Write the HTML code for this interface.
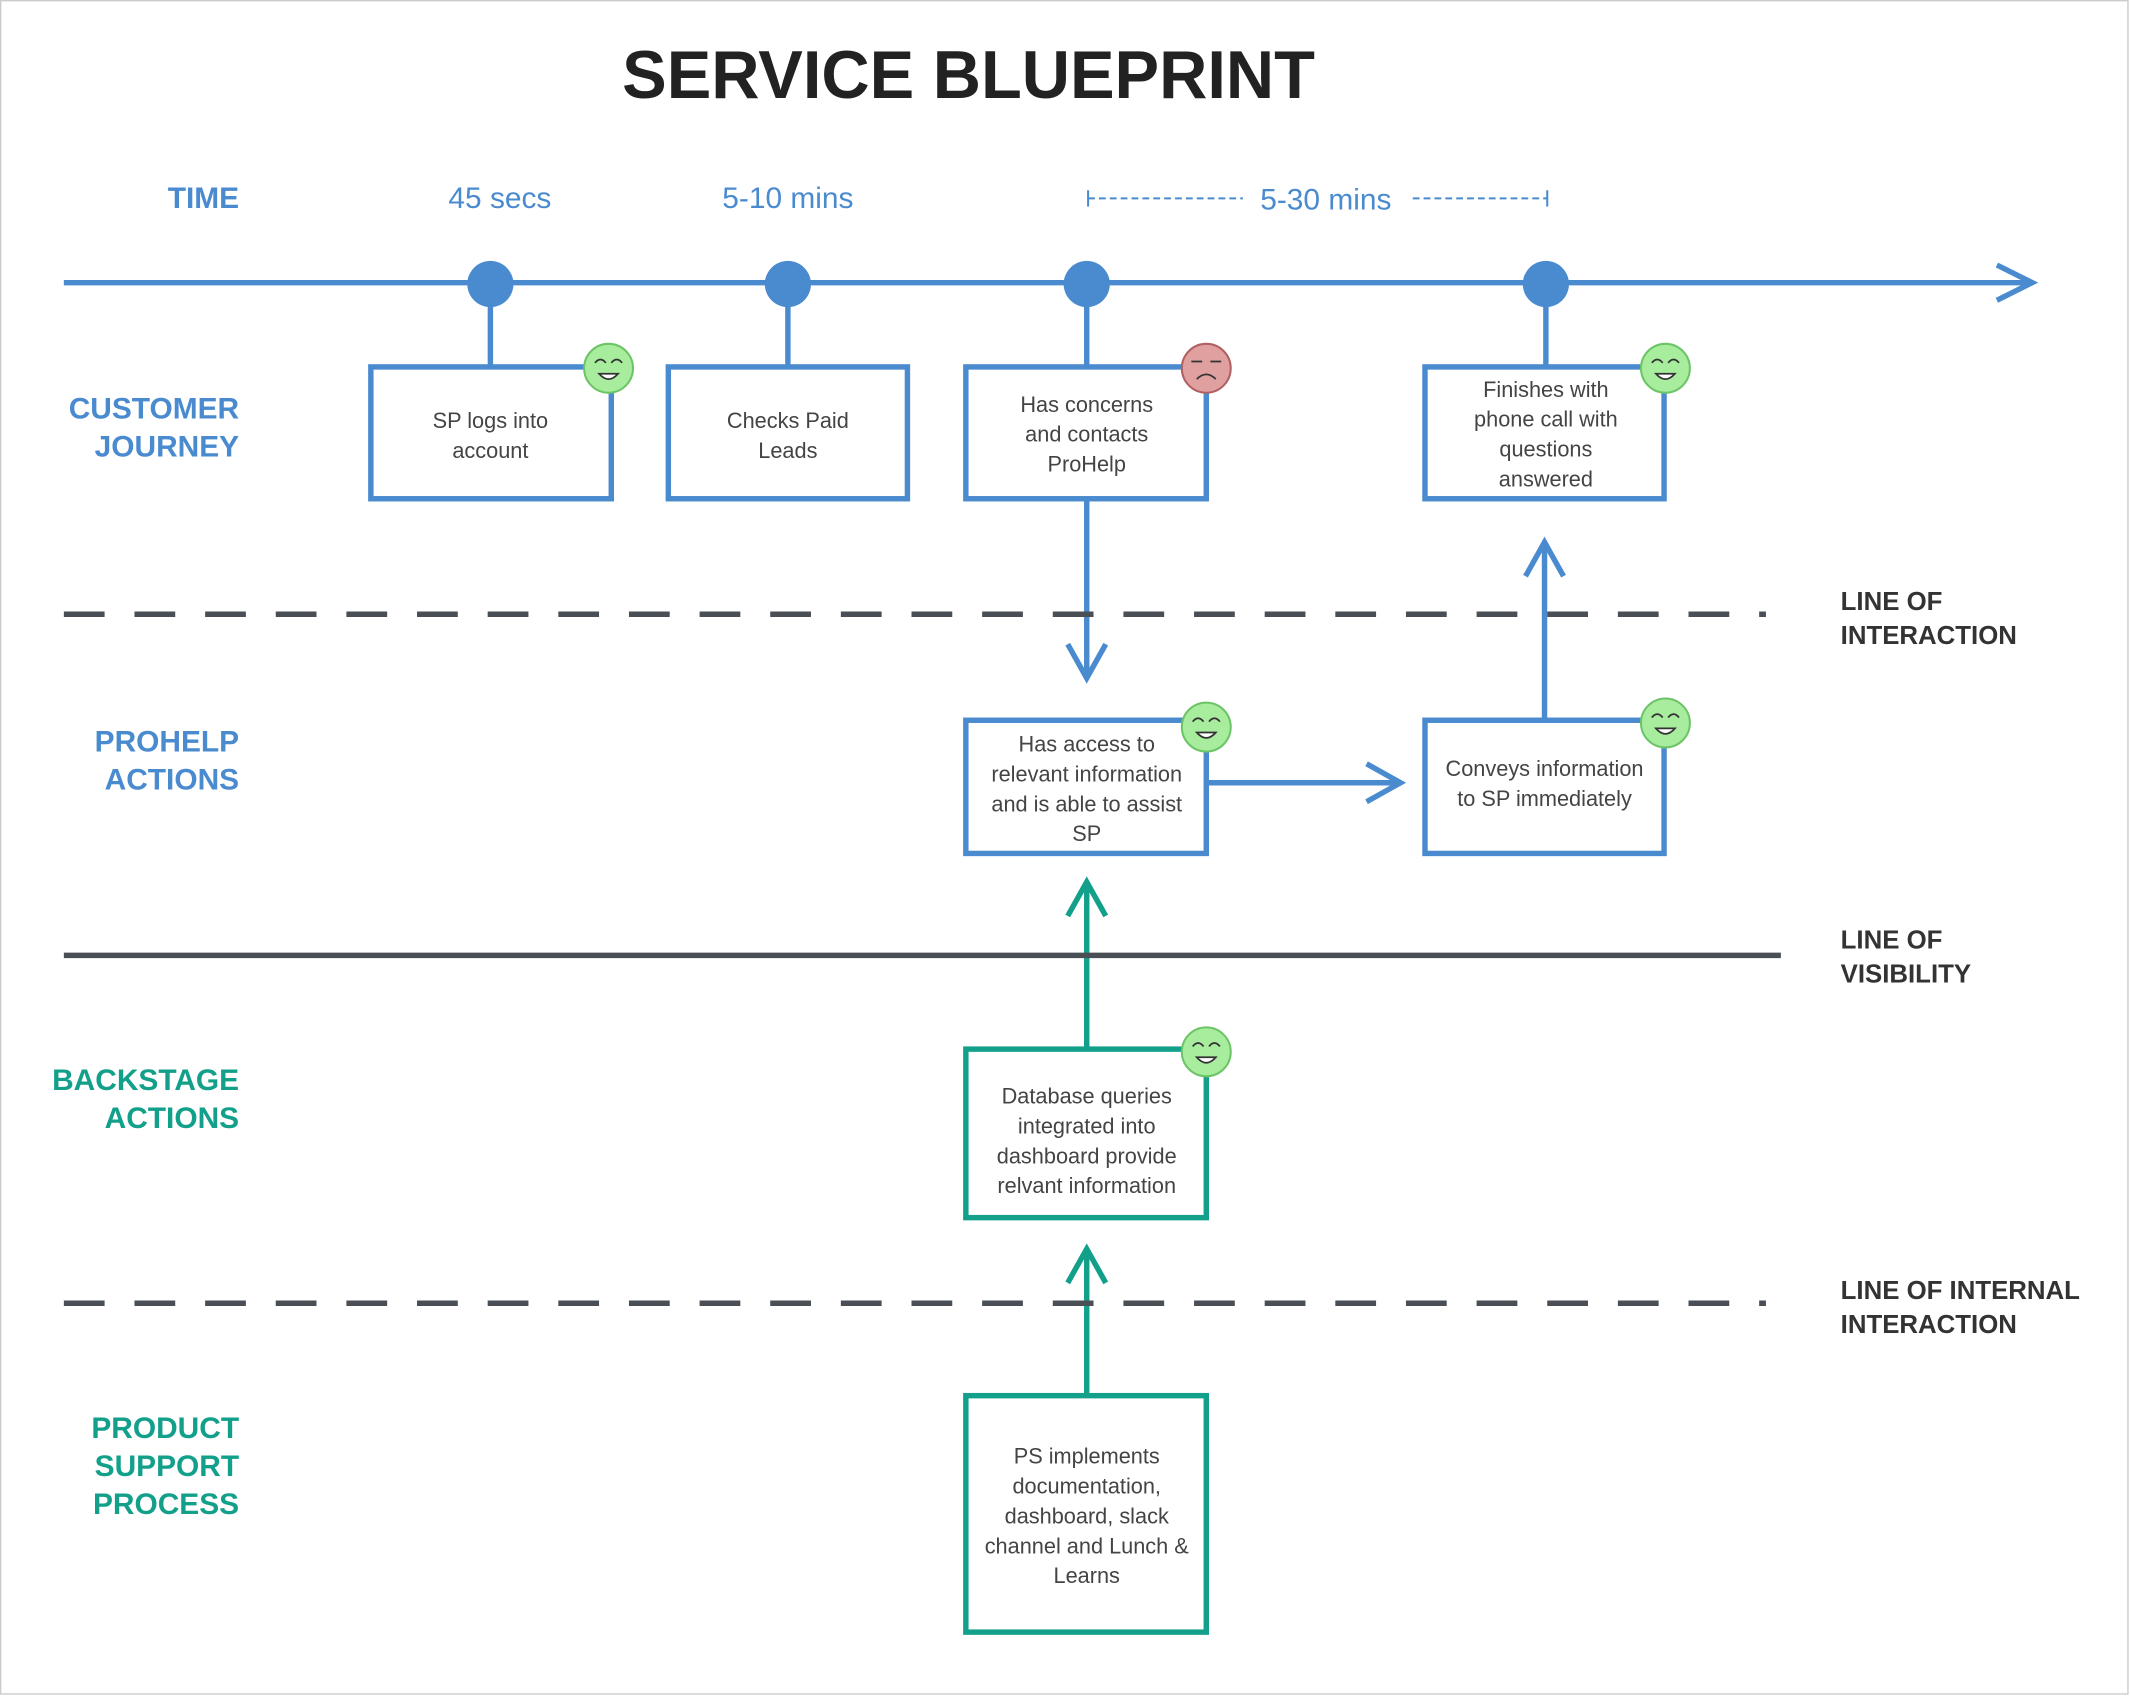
<!DOCTYPE html>
<html><head><meta charset="utf-8"><style>
html,body{margin:0;padding:0;background:#fff}
svg{display:block}
text{font-family:"Liberation Sans",sans-serif}
.b{fill:#fff;stroke:#4a8bd0;stroke-width:4}
.t{fill:#fff;stroke:#12a08a;stroke-width:4}
.bx{font-size:16px;fill:#444;text-anchor:middle}
.lb{font-size:22px;font-weight:bold;fill:#4a8bd0;text-anchor:end}
.lt{font-size:22px;font-weight:bold;fill:#12a08a;text-anchor:end}
.rl{font-size:19px;font-weight:bold;fill:#333}
.tm{font-size:22px;fill:#4a8bd0;text-anchor:middle}
</style></head><body>
<svg width="2130" height="1696" viewBox="0 0 1568 1248" preserveAspectRatio="none">
<defs>
<g id="happy"><circle r="18" fill="#a8ec9e" stroke="#6cc466" stroke-width="1.5"/><path d="M-10,-4 q4,-5 8,0 M2,-4 q4,-5 8,0" fill="none" stroke="#333" stroke-width="1.3"/><path d="M-7,4 q7,8 14,0 z" fill="#fff" stroke="#333" stroke-width="1.3"/></g>
<g id="sad"><circle r="18" fill="#e0a0a0" stroke="#b06060" stroke-width="1.5"/><path d="M-11,-5 h8 M3,-5 h8" stroke="#333" stroke-width="1.3"/><path d="M-7,8 q7,-7 14,0" fill="none" stroke="#333" stroke-width="1.3"/></g>
</defs>
<rect x="0.5" y="0.5" width="1566" height="1246" fill="none" stroke="#ccc"/>
<text x="458" y="72" font-size="50" font-weight="bold" fill="#222" textLength="510" lengthAdjust="spacingAndGlyphs">SERVICE BLUEPRINT</text>
<text class="lb" x="176" y="153">TIME</text>
<text class="tm" x="368" y="153">45 secs</text>
<text class="tm" x="580" y="153">5-10 mins</text>
<text class="tm" x="976" y="154">5-30 mins</text>
<g stroke="#4a8bd0" stroke-width="1.5"><line x1="801" y1="146" x2="915" y2="146" stroke-dasharray="5,3"/><line x1="1040" y1="146" x2="1139" y2="146" stroke-dasharray="5,3"/><line x1="801" y1="140" x2="801" y2="152"/><line x1="1139" y1="140" x2="1139" y2="152"/></g>
<g stroke="#4a8bd0" stroke-width="4" fill="none">
<line x1="47" y1="208" x2="1495" y2="208"/><polyline points="1470,195 1496,208 1470,221"/>
<line x1="361" y1="208" x2="361" y2="270"/><line x1="580" y1="208" x2="580" y2="270"/><line x1="800" y1="208" x2="800" y2="270"/><line x1="1138" y1="208" x2="1138" y2="270"/>
<line x1="800" y1="368" x2="800" y2="498"/><polyline points="786,474 800,499 814,474"/>
<line x1="890" y1="576" x2="1030" y2="576"/><polyline points="1006,562 1031,576 1006,590"/>
<line x1="1137" y1="529" x2="1137" y2="400"/><polyline points="1123,424 1137,399 1151,424"/>
</g>
<g fill="#4a8bd0"><circle cx="361" cy="209" r="17"/><circle cx="580" cy="209" r="17"/><circle cx="800" cy="209" r="17"/><circle cx="1138" cy="209" r="17"/></g>
<g stroke="#12a08a" stroke-width="4" fill="none">
<line x1="800" y1="771" x2="800" y2="650"/><polyline points="786,674 800,649 814,674"/>
<line x1="800" y1="1026" x2="800" y2="920"/><polyline points="786,944 800,919 814,944"/>
</g>
<g stroke="#4a4f55" stroke-width="4"><line x1="47" y1="452" x2="1300" y2="452" stroke-dasharray="30,22"/><line x1="47" y1="703" x2="1311" y2="703"/><line x1="47" y1="959" x2="1300" y2="959" stroke-dasharray="30,22"/></g>
<rect class="b" x="273" y="270" width="177" height="97"/>
<rect class="b" x="492" y="270" width="176" height="97"/>
<rect class="b" x="711" y="270" width="177" height="97"/>
<rect class="b" x="1049" y="270" width="176" height="97"/>
<rect class="b" x="711" y="530" width="177" height="98"/>
<rect class="b" x="1049" y="530" width="176" height="98"/>
<rect class="t" x="711" y="772" width="177" height="124"/>
<rect class="t" x="711" y="1027" width="177" height="174"/>
<text class="bx"><tspan x="361" y="315">SP logs into</tspan><tspan x="361" y="337">account</tspan></text>
<text class="bx"><tspan x="580" y="315">Checks Paid</tspan><tspan x="580" y="337">Leads</tspan></text>
<text class="bx"><tspan x="800" y="303">Has concerns</tspan><tspan x="800" y="325">and contacts</tspan><tspan x="800" y="347">ProHelp</tspan></text>
<text class="bx"><tspan x="1138" y="292">Finishes with</tspan><tspan x="1138" y="314">phone call with</tspan><tspan x="1138" y="336">questions</tspan><tspan x="1138" y="358">answered</tspan></text>
<text class="bx"><tspan x="800" y="553">Has access to</tspan><tspan x="800" y="575">relevant information</tspan><tspan x="800" y="597">and is able to assist</tspan><tspan x="800" y="619">SP</tspan></text>
<text class="bx"><tspan x="1137" y="571">Conveys information</tspan><tspan x="1137" y="593">to SP immediately</tspan></text>
<text class="bx"><tspan x="800" y="812">Database queries</tspan><tspan x="800" y="834">integrated into</tspan><tspan x="800" y="856">dashboard provide</tspan><tspan x="800" y="878">relvant information</tspan></text>
<text class="bx"><tspan x="800" y="1077">PS implements</tspan><tspan x="800" y="1099">documentation,</tspan><tspan x="800" y="1121">dashboard, slack</tspan><tspan x="800" y="1143">channel and Lunch &amp;</tspan><tspan x="800" y="1165">Learns</tspan></text>
<use href="#happy" x="448" y="271"/><use href="#sad" x="888" y="271"/><use href="#happy" x="1226" y="271"/>
<use href="#happy" x="888" y="535"/><use href="#happy" x="1226" y="532"/><use href="#happy" x="888" y="774"/>
<text class="lb"><tspan x="176" y="308">CUSTOMER</tspan><tspan x="176" y="336">JOURNEY</tspan></text>
<text class="lb"><tspan x="176" y="553">PROHELP</tspan><tspan x="176" y="581">ACTIONS</tspan></text>
<text class="lt"><tspan x="176" y="802">BACKSTAGE</tspan><tspan x="176" y="830">ACTIONS</tspan></text>
<text class="lt"><tspan x="176" y="1058">PRODUCT</tspan><tspan x="176" y="1086">SUPPORT</tspan><tspan x="176" y="1114">PROCESS</tspan></text>
<text class="rl"><tspan x="1355" y="449">LINE OF</tspan><tspan x="1355" y="474">INTERACTION</tspan></text>
<text class="rl"><tspan x="1355" y="698">LINE OF</tspan><tspan x="1355" y="723">VISIBILITY</tspan></text>
<text class="rl"><tspan x="1355" y="956">LINE OF INTERNAL</tspan><tspan x="1355" y="981">INTERACTION</tspan></text>
</svg>
</body></html>
